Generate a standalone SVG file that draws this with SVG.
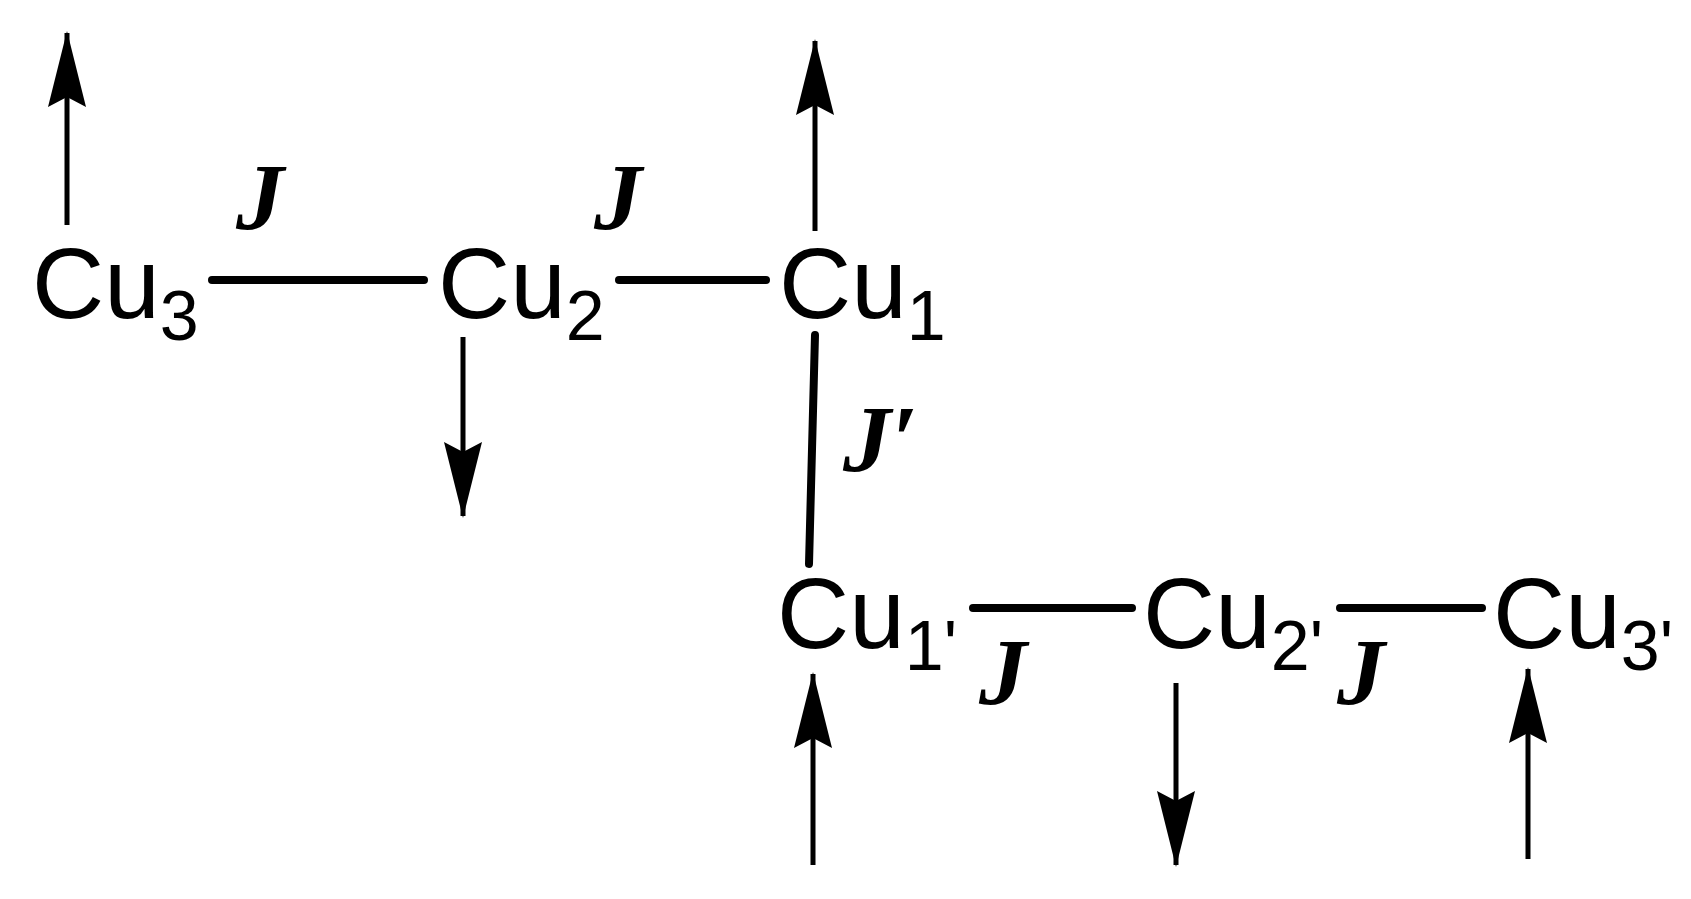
<svg xmlns="http://www.w3.org/2000/svg" width="1691" height="899" viewBox="0 0 1691 899">
<style>
.cu{font-family:"Liberation Sans",Arial,sans-serif;font-size:100px;fill:#000}
.sub{font-size:70px}
.j{font-family:"Liberation Serif","Times New Roman",serif;font-size:96px;font-style:italic;font-weight:bold;fill:#000}
.bond{stroke:#000;stroke-width:8;stroke-linecap:round;fill:none}
.spin{stroke:#000;stroke-width:5;fill:none}
</style>
<defs>
<marker id="ah" markerUnits="userSpaceOnUse" markerWidth="76" markerHeight="38" refX="74" refY="19" viewBox="0 0 76 38" orient="auto">
<path d="M0,0 L76,19 L0,38 L10,19 Z" fill="#000"/>
</marker>
</defs>
<rect width="1691" height="899" fill="#fff"/>
<g id="Cu3"><text class="cu" x="32" y="318">Cu<tspan class="sub" dy="22">3</tspan></text></g>
<g id="Cu2"><text class="cu" x="438" y="318">Cu<tspan class="sub" dy="22">2</tspan></text></g>
<g id="Cu1"><text class="cu" x="779" y="318">Cu<tspan class="sub" dy="22">1</tspan></text></g>
<g id="Cu1p"><text class="cu" x="777" y="648">Cu<tspan class="sub" dy="22">1'</tspan></text></g>
<g id="Cu2p"><text class="cu" x="1143" y="648">Cu<tspan class="sub" dy="22">2'</tspan></text></g>
<g id="Cu3p"><text class="cu" x="1493" y="648">Cu<tspan class="sub" dy="22">3'</tspan></text></g>
<g id="connectors">
<line class="bond" x1="212" y1="280" x2="424" y2="280"/>
<line class="bond" x1="619" y1="280" x2="766" y2="280"/>
<line class="bond" x1="815" y1="335" x2="809" y2="564"/>
<line class="bond" x1="973" y1="608" x2="1132" y2="608"/>
<line class="bond" x1="1340" y1="608" x2="1482" y2="608"/>
<line class="spin" x1="67" y1="225" x2="67" y2="33" marker-end="url(#ah)"/>
<line class="spin" x1="815" y1="231" x2="815" y2="41" marker-end="url(#ah)"/>
<line class="spin" x1="463" y1="337" x2="463" y2="516" marker-end="url(#ah)"/>
<line class="spin" x1="813" y1="865" x2="813" y2="674" marker-end="url(#ah)"/>
<line class="spin" x1="1176" y1="683" x2="1176" y2="865" marker-end="url(#ah)"/>
<line class="spin" x1="1528" y1="859" x2="1528" y2="669" marker-end="url(#ah)"/>
</g>
<g id="labels">
<text class="j" x="236" y="230">J</text>
<text class="j" x="594" y="230">J</text>
<text class="j" x="843" y="472">J′</text>
<text class="j" x="979" y="705">J</text>
<text class="j" x="1337" y="705">J</text>
</g>
</svg>
